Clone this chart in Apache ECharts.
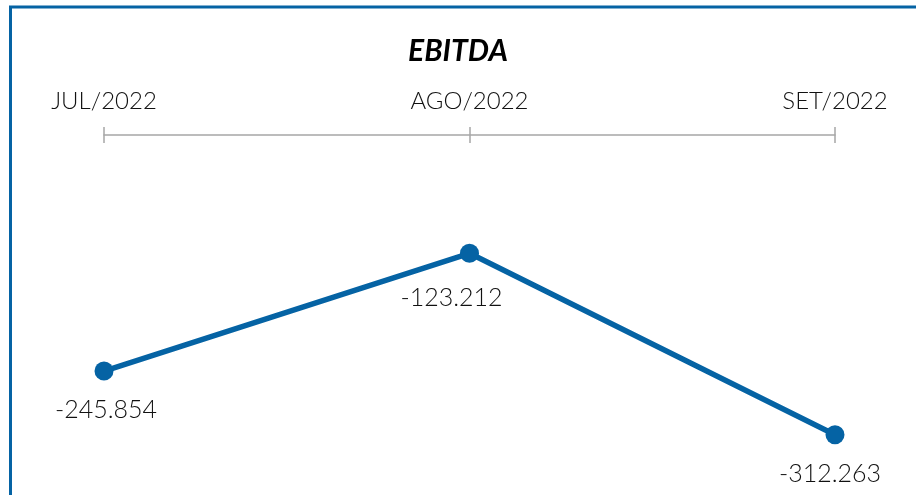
<!DOCTYPE html>
<html>
<head>
<meta charset="utf-8">
<script src="https://cdn.jsdelivr.net/npm/echarts@6/dist/echarts.min.js"></script>
<style>
html,body{margin:0;padding:0;background:#fff;}
#chart{width:916px;height:495px;}
</style>
</head>
<body>
<div id="chart"></div>
<script>
const categories = ['JUL/2022', 'AGO/2022', 'SET/2022'];
const ebitda = [-245854, -123212, -312263];
const valueLabels = ['-245.854', '-123.212', '-312.263'];

const blue = '#0563a4';
const font = 'Lato';
const labelOffsets = [[2, 0], [-18, 6], [-5, 0]];

const chart = echarts.init(document.getElementById('chart'));
chart.setOption({
  backgroundColor: '#fff',
  animation: false,
  title: {
    text: 'EBITDA',
    left: 'center',
    top: 31,
    textStyle: { fontFamily: font, fontSize: 30, fontWeight: 'bold', fontStyle: 'italic', color: '#000' }
  },
  graphic: [{
    type: 'polyline',
    shape: { points: [[10.5, 500], [10.5, 7], [920, 7]] },
    style: { stroke: blue, lineWidth: 3, fill: null }
  }],
  grid: { left: 104, right: 81, top: 135, bottom: 0, containLabel: false },
  xAxis: [{
    type: 'category',
    data: categories,
    position: 'top',
    boundaryGap: false,
    axisLine: { show: true, lineStyle: { color: '#a6a6a6', width: 1.5 } },
    axisTick: { show: true, inside: false, length: 8, lineStyle: { color: '#a6a6a6', width: 1.5 } },
    axisLabel: { show: true, margin: 22, color: '#111', fontFamily: font, fontSize: 24, fontWeight: 300 },
    splitLine: { show: false }
  }, {
    type: 'category',
    data: categories,
    position: 'top',
    boundaryGap: false,
    axisLine: { show: false },
    axisTick: { show: true, inside: true, length: 8, lineStyle: { color: '#a6a6a6', width: 1.5 } },
    axisLabel: { show: false },
    splitLine: { show: false }
  }],
  yAxis: {
    type: 'value',
    min: -375000,
    max: 0,
    show: false,
    splitLine: { show: false }
  },
  series: [{
    type: 'line',
    xAxisIndex: 0,
    data: ebitda.map((v, i) => ({
      value: v,
      label: { offset: labelOffsets[i], formatter: valueLabels[i] }
    })),
    symbol: 'circle',
    symbolSize: 19,
    lineStyle: { color: blue, width: 5.5 },
    itemStyle: { color: blue },
    label: {
      show: true,
      position: 'bottom',
      distance: 17,
      color: '#111',
      fontFamily: font,
      fontSize: 25,
      fontWeight: 300
    }
  }]
});
</script>
</body>
</html>
